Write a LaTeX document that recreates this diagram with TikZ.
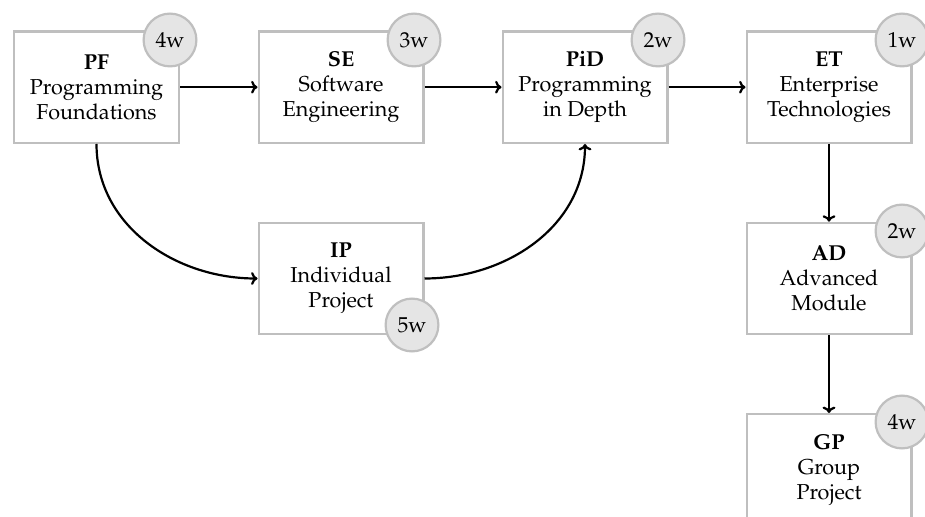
\documentclass[tikz,border=0pt]{standalone}
\usetikzlibrary{arrows.meta}
\IfFileExists{mathpazo.sty}{%
  \usepackage[T1]{fontenc}\usepackage{mathpazo}%
  \newcommand{\boxfont}{\fontsize{10.8}{12.5}\selectfont}}{%
  \usepackage{fontspec}\setmainfont{Liberation Serif}%
  \newcommand{\boxfont}{\fontsize{11.4}{12.5}\selectfont}}
\begin{document}
\begin{tikzpicture}[x=0.5pt,y=-0.5pt,
  course/.style={draw=gray!50, line width=1.1pt, minimum width=82.4pt, minimum height=55.7pt,
    align=center, inner sep=0pt, font=\boxfont},
  weeks/.style={circle, draw=gray!50, fill=gray!20, line width=1.1pt, minimum size=26.4pt,
    inner sep=0pt, font=\boxfont},
  conn/.style={-{To[length=3.2pt,width=6.4pt]}, line width=1.1pt}]
\useasboundingbox (0,0) rectangle (925,517);
% courses
\node[course] (PF)  at (96.5,87.2)  {\textbf{PF}\\Programming\\Foundations};
\node[course] (SE)  at (341,87.2)   {\textbf{SE}\\Software\\Engineering};
\node[course] (PiD) at (585,87.2)   {\textbf{PiD}\\Programming\\in Depth};
\node[course] (ET)  at (829,87.2)   {\textbf{ET}\\Enterprise\\Technologies};
\node[course] (IP)  at (341,278.5)  {\textbf{IP}\\Individual\\Project};
\node[course] (AD)  at (829,278.5)  {\textbf{AD}\\Advanced\\Module};
\node[course] (GP)  at (829,469.8)  {\textbf{GP}\\Group\\Project};
% connectors
\draw[conn] (PF) -- (SE);
\draw[conn] (SE) -- (PiD);
\draw[conn] (PiD) -- (ET);
\draw[conn] (ET) -- (AD);
\draw[conn] (AD) -- (GP);
\draw[conn] (PF.south) to[out=-90,in=180] (IP.west);
\draw[conn] (IP.east) to[out=0,in=-90] (PiD.south);
% weeks
\node[weeks] (wPF)  at (170,40)   {4w};
\node[weeks] (wSE)  at (414,40)   {3w};
\node[weeks] (wPiD) at (658,40)   {2w};
\node[weeks] (wET)  at (902,40)   {1w};
\node[weeks] (wIP)  at (412,325)  {5w};
\node[weeks] (wAD)  at (902,231)  {2w};
\node[weeks] (wGP)  at (902,422)  {4w};
\end{tikzpicture}
\end{document}
